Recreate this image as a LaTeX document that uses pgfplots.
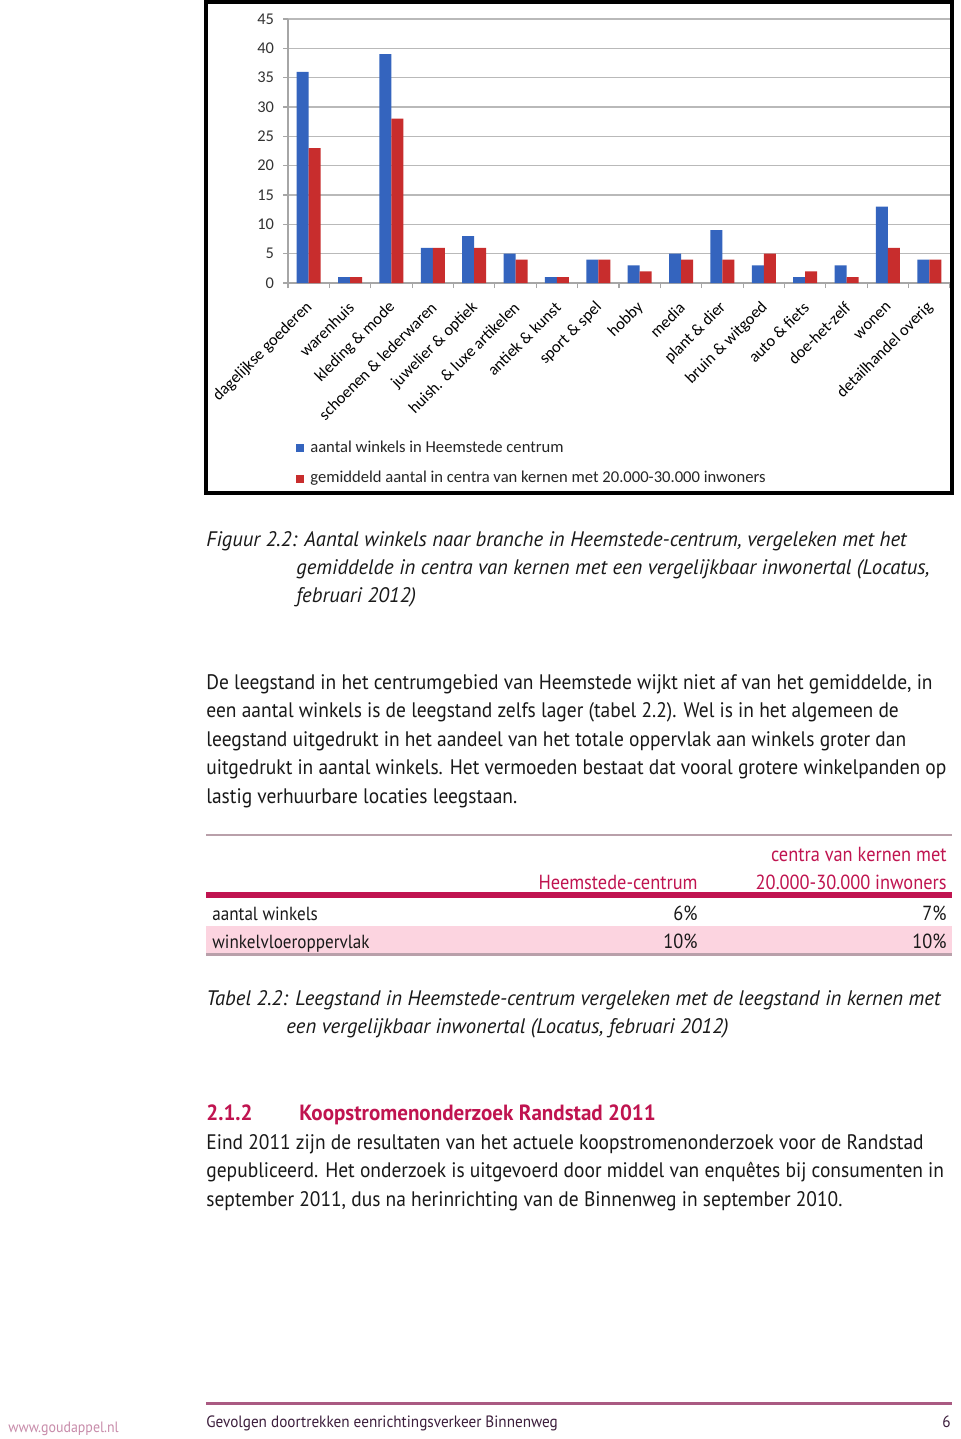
\documentclass[border=0pt]{standalone}
\usepackage{pgfplots}
\pgfplotsset{compat=1.18}
\usepackage{fontspec}
\setmainfont{PT Sans}
\newfontfamily\bodyf[FakeStretch=0.927]{PT Sans}
\newfontfamily\itf[FakeStretch=0.984]{PT Sans Italic}
\newfontfamily\tabf[FakeStretch=0.9]{PT Sans}
\newfontfamily\headf[FakeStretch=0.957]{PT Sans Bold}
\newfontfamily\chartf{Carlito}
\definecolor{barblue}{RGB}{52,100,190}
\definecolor{barred}{RGB}{200,45,45}
\definecolor{crim}{RGB}{192,20,80}
\definecolor{pinkrow}{RGB}{252,212,224}
\definecolor{topline}{RGB}{185,160,170}
\definecolor{footline}{RGB}{170,90,130}
\definecolor{foottext}{RGB}{60,30,60}
\definecolor{webtext}{RGB}{200,140,170}
\definecolor{txt}{RGB}{25,25,25}
\newcommand\bodysize{\fontsize{10.5}{12}\selectfont}
\newcommand\tl[3]{\node[anchor=base west,inner sep=0pt,text=txt,font=\bodyf\bodysize] at (#1,#2) {#3};}
\newcommand\ti[3]{\node[anchor=base west,inner sep=0pt,text=txt,font=\itf\bodysize] at (#1,#2) {#3};}
\newcommand\ttl[3]{\node[anchor=base west,inner sep=0pt,text=txt,font=\tabf\fontsize{9.5}{11}\selectfont] at (#1,#2) {#3};}
\newcommand\tr[3]{\node[anchor=base east,inner sep=0pt,text=txt,font=\tabf\fontsize{10.2}{12}\selectfont] at (#1,#2) {#3};}
\newcommand\tcr[3]{\node[anchor=base east,inner sep=0pt,text=crim,font=\tabf\fontsize{10.2}{12}\selectfont] at (#1,#2) {#3};}
\begin{document}
\begin{tikzpicture}[x=0.5pt,y=-0.5pt]
\useasboundingbox (0,0) rectangle (960,1439);
\fill[white] (0,0) rectangle (960,1439);
\coordinate (axSW) at (288,283);
\begin{axis}[at={(axSW)}, anchor=south west, scale only axis,
  width=331pt, height=132pt,
  ybar=0pt, bar width=6pt,
  ymin=0, ymax=45, ytick={0,5,...,45},
  xmin=-0.5, xmax=15.5,
  xtick={0,...,15},
  xticklabels={dagelijkse goederen, warenhuis, kleding \& mode, schoenen \& lederwaren, juwelier \& optiek, huish. \& luxe artikelen, antiek \& kunst, sport \& spel, hobby, media, plant \& dier, bruin \& witgoed, auto \& fiets, doe-het-zelf, wonen, detailhandel overig},
  major x tick style={draw=none},
  minor xtick={-0.5,0.5,...,15.5},
  minor x tick style={gray!70, line width=0.6pt},
  minor tick length=2.5pt,
  major tick length=2.5pt,
  tick align=outside,
  ytick style={gray!70, line width=0.6pt},
  axis lines*=left,
  axis line style={draw=gray!70, line width=0.6pt, -},
  ymajorgrids, grid style={gray!55, line width=0.8pt},
  /pgf/number format/assume math mode=true,
  tick label style={font=\chartf\fontsize{8.2}{9}\selectfont, text=black!80},
  yticklabel style={xshift=-1pt},
  xticklabel style={yshift=-6pt, xshift=3pt, rotate=45, anchor=east, text=black},
  legend style={draw=none, fill=none, at={(0.012,-0.585)}, anchor=north west,
    font=\chartf\fontsize{8.3}{9}\selectfont, row sep=5pt, legend cell align=left,
    inner sep=0pt, nodes={inner sep=1.5pt, text=black!85}},
  legend image code/.code={\fill[#1] (0pt,-2pt) rectangle (4pt,2pt);},
  /tikz/every odd column/.append style={column sep=1.5pt},
]
\addplot[fill=barblue, draw=none] coordinates {(0,36) (1,1) (2,39) (3,6) (4,8) (5,5) (6,1) (7,4) (8,3) (9,5) (10,9) (11,3) (12,1) (13,3) (14,13) (15,4)};
\addplot[fill=barred, draw=none] coordinates {(0,23) (1,1) (2,28) (3,6) (4,6) (5,4) (6,1) (7,4) (8,2) (9,4) (10,4) (11,5) (12,2) (13,1) (14,6) (15,4)};
\legend{aantal winkels in Heemstede centrum, gemiddeld aantal in centra van kernen met 20.000-30.000 inwoners}
\end{axis}
\draw[black, line width=2] (205.5,2) rectangle (951.5,493);
% caption
\ti{206}{546}{Figuur 2.2: Aantal winkels naar branche in Heemstede-centrum, vergeleken met het}
\ti{296}{574}{gemiddelde in centra van kernen met een vergelijkbaar inwonertal (Locatus,}
\ti{296}{602}{februari 2012)}
% paragraph
\tl{206}{689}{De leegstand in het centrumgebied van Heemstede wijkt niet af van het gemiddelde, in}
\tl{206}{717.5}{een aantal winkels is de leegstand zelfs lager (tabel 2.2). Wel is in het algemeen de}
\tl{206}{746}{leegstand uitgedrukt in het aandeel van het totale oppervlak aan winkels groter dan}
\tl{206}{774.5}{uitgedrukt in aantal winkels. Het vermoeden bestaat dat vooral grotere winkelpanden op}
\tl{206}{803}{lastig verhuurbare locaties leegstaan.}
% table
\fill[pinkrow] (206,926) rectangle (952,953.5);
\draw[topline, line width=1.3] (206,835) -- (952,835);
\draw[crim, line width=3] (206,894.5) -- (952,894.5);
\draw[topline, line width=1.3] (206,954.5) -- (952,954.5);
\tcr{947}{861.7}{centra van kernen met}
\tcr{947}{889.3}{20.000-30.000 inwoners}
\tcr{698}{889.3}{Heemstede-centrum}
\ttl{212}{920.7}{aantal winkels}
\tr{698}{920.7}{6\%}
\tr{947}{920.7}{7\%}
\ttl{212}{948.3}{winkelvloeroppervlak}
\tr{698}{948.3}{10\%}
\tr{947}{948.3}{10\%}
% table caption
\ti{206}{1005}{Tabel 2.2: Leegstand in Heemstede-centrum vergeleken met de leegstand in kernen met}
\ti{286}{1033}{een vergelijkbaar inwonertal (Locatus, februari 2012)}
% heading
\node[anchor=base west,inner sep=0pt,text=crim,font=\headf\fontsize{11}{13}\selectfont] at (206,1120.7) {2.1.2};
\node[anchor=base west,inner sep=0pt,text=crim,font=\headf\fontsize{11}{13}\selectfont] at (299,1120.7) {Koopstromenonderzoek Randstad 2011};
\tl{206}{1149}{Eind 2011 zijn de resultaten van het actuele koopstromenonderzoek voor de Randstad}
\tl{206}{1177.5}{gepubliceerd. Het onderzoek is uitgevoerd door middel van enquêtes bij consumenten in}
\tl{206}{1206}{september 2011, dus na herinrichting van de Binnenweg in september 2010.}
% footer
\draw[footline, line width=1.5] (206,1403) -- (952,1403);
\node[anchor=base west,inner sep=0pt,text=foottext,font=\bodyf\fontsize{8.2}{10}\selectfont] at (206,1427) {Gevolgen doortrekken eenrichtingsverkeer Binnenweg};
\node[anchor=base east,inner sep=0pt,text=foottext,font=\bodyf\fontsize{8.2}{10}\selectfont] at (951,1427) {6};
\node[anchor=base west,inner sep=0pt,text=webtext,font=\bodyf\fontsize{7.5}{10}\selectfont] at (8,1432) {www.goudappel.nl};
\end{tikzpicture}
\end{document}
